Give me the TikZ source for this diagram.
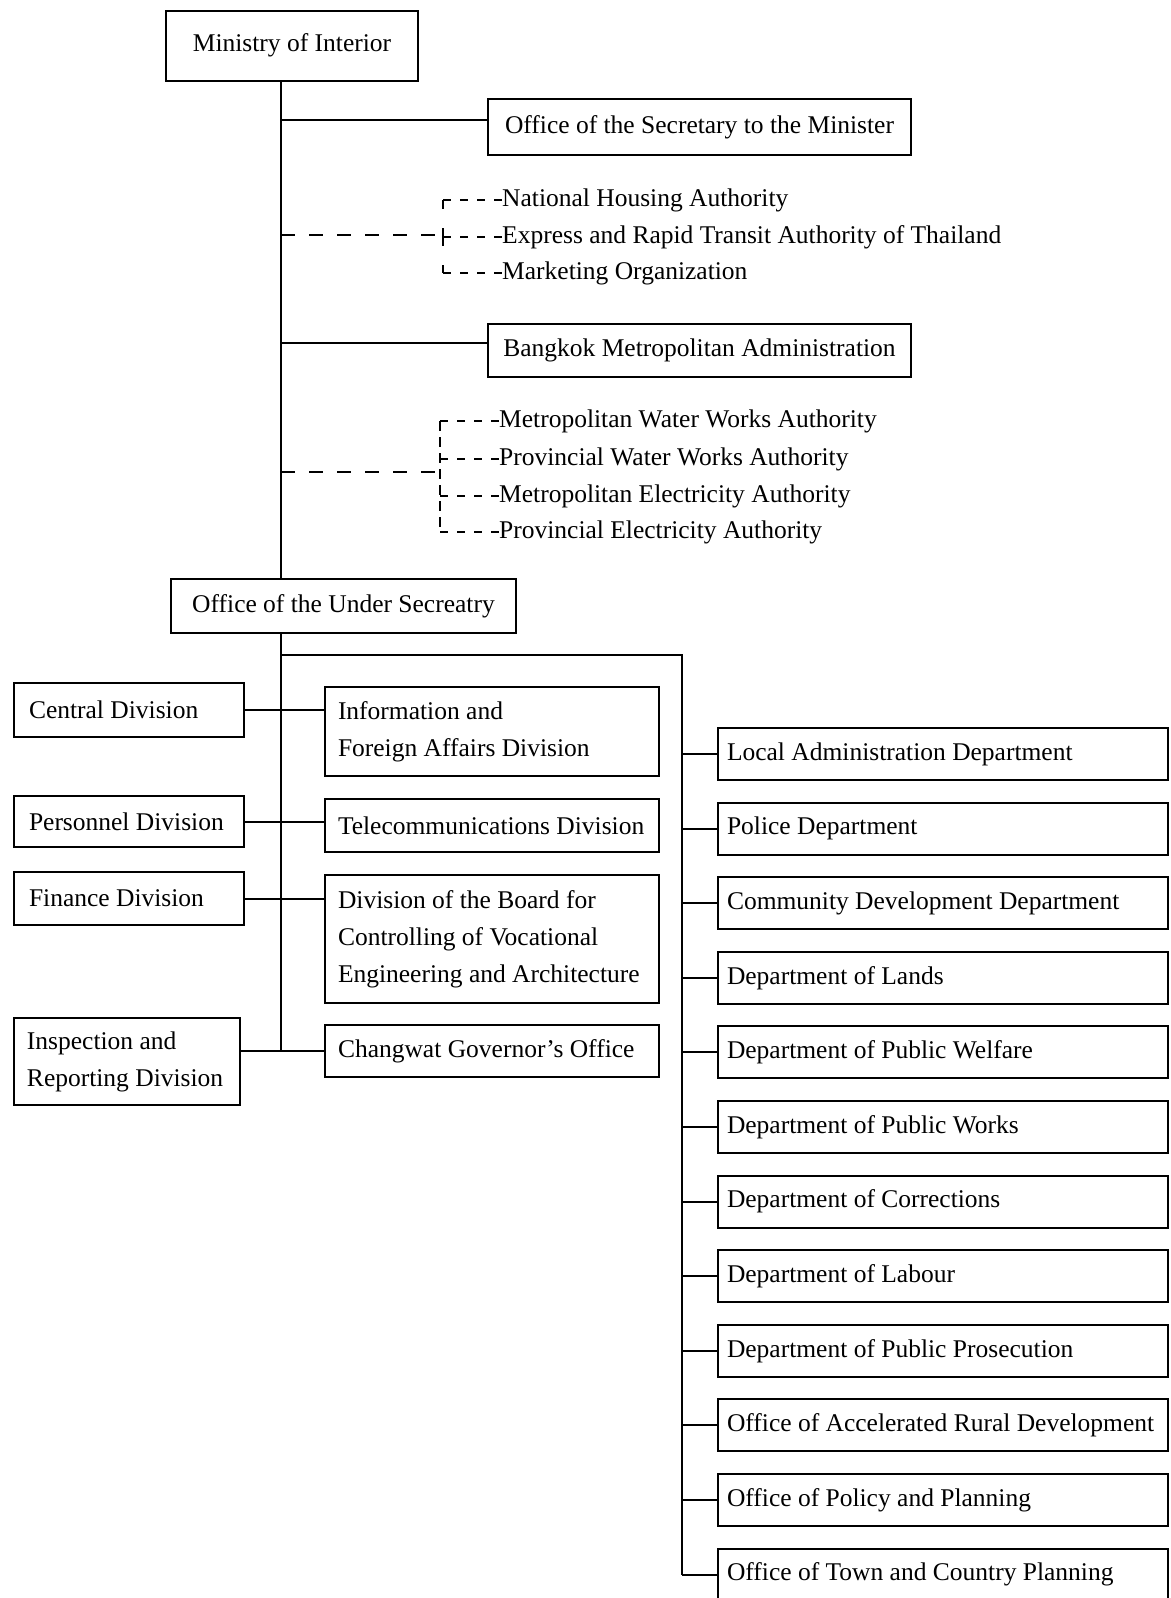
\documentclass[tikz,border=0pt]{standalone}
\usepackage{fontspec}
\setmainfont{Liberation Serif}
\begin{document}
\begin{tikzpicture}[x=1pt,y=-1pt,
  every node/.style={font=\fontsize{25.5}{37}\selectfont},
  box/.style={draw, line width=2pt, inner sep=0pt, align=center},
  lbox/.style={box, anchor=north west, text width=200pt, inner xsep=15pt, align=flush left},
  mbox/.style={box, anchor=north west, text width=308pt, inner xsep=13pt, align=flush left},
  rbox/.style={box, anchor=west, text width=432pt, inner xsep=9pt, align=flush left, minimum height=52pt},
  conn/.style={line width=2pt},
  longdash/.style={line width=2pt, dash pattern=on 14pt off 14pt},
  shortdash/.style={line width=1.8pt, dash pattern=on 8pt off 9pt},
  bracketa/.style={line width=1.8pt, dash pattern=on 9pt off 19pt on 18pt off 19pt on 9pt off 60pt},
  bracketb/.style={line width=1.8pt, dash pattern=on 10pt off 6pt},
  rowtext/.style={anchor=west, inner sep=0pt, text height=19pt, text depth=6pt}
]
\useasboundingbox (0,0) rectangle (1170,1598);
\clip (0,0) rectangle (1170,1598);

% top boxes
\node[box, minimum width=252pt, minimum height=70pt] (moi) at (292,45.5) {Ministry of Interior};
\node[box, minimum width=423pt, minimum height=56pt] (sec) at (699.5,127) {Office of the Secretary to the Minister};
\node[box, minimum width=423pt, minimum height=53pt] (bma) at (699.5,350.5) {Bangkok Metropolitan Administration};
\node[box, minimum width=345pt, minimum height=54pt] (ous) at (343.5,606) {Office of the Under Secreatry};

% named coordinates
\coordinate (tx) at (281,0);
\coordinate (j1) at (443,235);
\coordinate (j2) at (440,472);
\coordinate (rtop) at (682,655);

% dashed groups
\node[rowtext] (nha) at (502,200) {National Housing Authority};
\node[rowtext] (erta) at (502,237) {Express and Rapid Transit Authority of Thailand};
\node[rowtext] (mko) at (502,273) {Marketing Organization};
\node[rowtext] (mwwa) at (499,421) {Metropolitan Water Works Authority};
\node[rowtext] (pwwa) at (499,459) {Provincial Water Works Authority};
\node[rowtext] (mea) at (499,496) {Metropolitan Electricity Authority};
\node[rowtext] (pea) at (499,532) {Provincial Electricity Authority};

% left column
\node[lbox, minimum height=54pt] (cd) at (13,682) {Central Division};
\node[lbox, minimum height=51pt] (pd) at (13,795) {Personnel Division};
\node[lbox, minimum height=53pt] (fd) at (13,871) {Finance Division};
\node[lbox, inner xsep=13pt, minimum height=87pt] (ird) at (13,1017) {Inspection and\\Reporting Division};

% middle column
\node[mbox, minimum height=89pt] (ifa) at (324,686) {Information and\\Foreign Affairs Division};
\node[mbox, minimum height=53pt] (tel) at (324,798) {Telecommunications Division};
\node[mbox, minimum height=128pt] (bd) at (324,874) {Division of the Board for\\Controlling of Vocational\\Engineering and Architecture};
\node[mbox, minimum height=52pt] (cgo) at (324,1024) {Changwat Governor's Office};

% right column
\foreach \i/\t in {0/Local Administration Department,
                   1/Police Department,
                   2/Community Development Department,
                   3/Department of Lands,
                   4/Department of Public Welfare,
                   5/Department of Public Works,
                   6/Department of Corrections,
                   7/Department of Labour,
                   8/Department of Public Prosecution,
                   9/Office of Accelerated Rural Development,
                   10/Office of Policy and Planning,
                   11/Office of Town and Country Planning}{
  \node[rbox] (r\i) at (717,{754+74.6*\i}) {\t};
  \draw[conn] (rtop |- r\i.west) -- (r\i.west);
}

% trunk
\draw[conn] (moi.south -| tx) -- (ous.north -| tx);
\draw[conn] (ous.south -| tx) -- (tx |- cgo.west);
\draw[conn] ([yshift=7pt]sec.west -| tx) -- ([yshift=7pt]sec.west);
\draw[conn] ([yshift=8pt]bma.west -| tx) -- ([yshift=8pt]bma.west);

% dashed links
\draw[longdash] (tx |- j1) -- (j1);
\draw[bracketa] (j1 |- nha.west) -- (j1 |- mko.west);
\draw[shortdash] (j1 |- nha.west) -- (nha.west);
\draw[shortdash] (j1 |- erta.west) -- (erta.west);
\draw[shortdash] (j1 |- mko.west) -- (mko.west);

\draw[longdash] (tx |- j2) -- (j2);
\draw[bracketb] (j2 |- mwwa.west) -- (j2 |- pea.west);
\draw[shortdash] (j2 |- mwwa.west) -- (mwwa.west);
\draw[shortdash] (j2 |- pwwa.west) -- (pwwa.west);
\draw[shortdash] (j2 |- mea.west) -- (mea.west);
\draw[shortdash] (j2 |- pea.west) -- (pea.west);

% left-middle connectors
\draw[conn] (cd.east) -- (cd.east -| ifa.west);
\draw[conn] (pd.east) -- (pd.east -| tel.west);
\draw[conn] (fd.east) -- (fd.east -| bd.west);
\draw[conn] (cgo.west -| ird.east) -- (cgo.west);

% right branch
\draw[conn] (tx |- rtop) -- (rtop) -- (rtop |- r11.west);
\end{tikzpicture}
\end{document}
